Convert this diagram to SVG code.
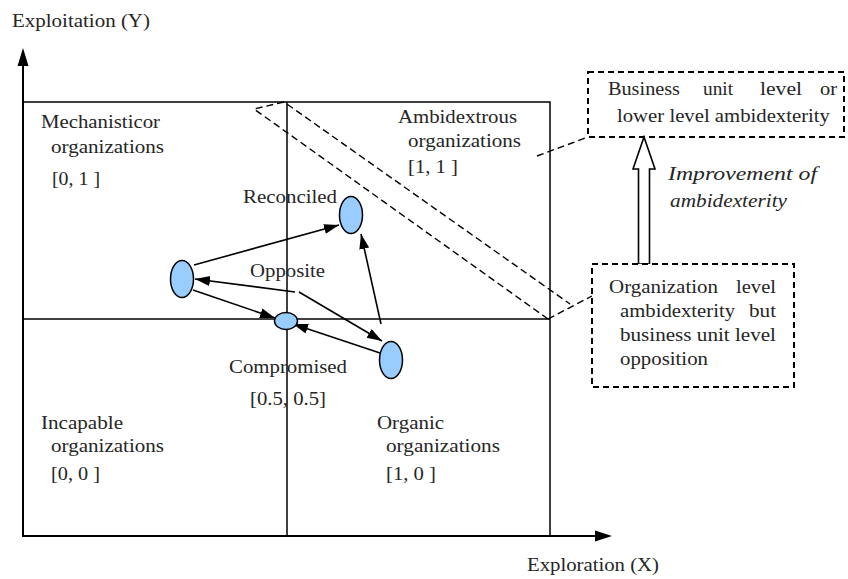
<svg xmlns="http://www.w3.org/2000/svg" width="848" height="579" viewBox="0 0 848 579">
<defs>
<style>
.ax{stroke:#000;stroke-width:2;fill:none}
.frame{stroke:#000;stroke-width:1.5;fill:none}
.dash{stroke:#000;stroke-width:1.4;fill:none;stroke-dasharray:7,4}
.box{stroke:#000;stroke-width:2;fill:#fff;stroke-dasharray:6,4}
.el{fill:#99ccff;stroke:#000;stroke-width:1.5}
.conn{stroke:#000;stroke-width:1.6;fill:none;marker-end:url(#ah)}
</style>
<marker id="ah" markerUnits="userSpaceOnUse" markerWidth="16" markerHeight="12" refX="15" refY="5" orient="auto">
<path d="M0,0 L15,5 L0,10 z" fill="#000"/>
</marker>
</defs>
<rect width="848" height="579" fill="#fff"/>

<g id="axes">
<line class="ax" x1="23" y1="537" x2="23" y2="62"/>
<polygon points="23,48 17.5,66 28.5,66" fill="#000"/>
<line class="ax" x1="23" y1="536" x2="597" y2="536"/>
<polygon points="612,536 595,530.5 595,541.5" fill="#000"/>
<text font-family="Liberation Serif" font-size="19" fill="#262626" x="12" y="27" textLength="138" lengthAdjust="spacingAndGlyphs">Exploitation (Y)</text>
<text font-family="Liberation Serif" font-size="19" fill="#262626" x="527" y="571" textLength="132" lengthAdjust="spacingAndGlyphs">Exploration (X)</text>
</g>

<g id="quadrants">
<rect class="frame" x="23" y="102" width="527" height="434"/>
<line class="frame" x1="287" y1="102" x2="287" y2="536"/>
<line class="frame" x1="23" y1="319" x2="550" y2="319"/>
</g>

<g id="q-mechanistic">
<text font-family="Liberation Serif" font-size="19" fill="#262626" x="41" y="128" textLength="119" lengthAdjust="spacingAndGlyphs">Mechanisticor</text>
<text font-family="Liberation Serif" font-size="19" fill="#262626" x="51" y="153" textLength="113" lengthAdjust="spacingAndGlyphs">organizations</text>
<text font-family="Liberation Serif" font-size="19" fill="#262626" x="52" y="185" textLength="48" lengthAdjust="spacingAndGlyphs">[0, 1 ]</text>
</g>
<g id="q-ambidextrous">
<text font-family="Liberation Serif" font-size="19" fill="#262626" x="398" y="123" textLength="119" lengthAdjust="spacingAndGlyphs">Ambidextrous</text>
<text font-family="Liberation Serif" font-size="19" fill="#262626" x="408" y="147" textLength="113" lengthAdjust="spacingAndGlyphs">organizations</text>
<text font-family="Liberation Serif" font-size="19" fill="#262626" x="408" y="173" textLength="50" lengthAdjust="spacingAndGlyphs">[1, 1 ]</text>
</g>
<g id="q-incapable">
<text font-family="Liberation Serif" font-size="19" fill="#262626" x="41" y="429" textLength="82" lengthAdjust="spacingAndGlyphs">Incapable</text>
<text font-family="Liberation Serif" font-size="19" fill="#262626" x="51" y="452" textLength="113" lengthAdjust="spacingAndGlyphs">organizations</text>
<text font-family="Liberation Serif" font-size="19" fill="#262626" x="51" y="480" textLength="49" lengthAdjust="spacingAndGlyphs">[0, 0 ]</text>
</g>
<g id="q-organic">
<text font-family="Liberation Serif" font-size="19" fill="#262626" x="377" y="429" textLength="67" lengthAdjust="spacingAndGlyphs">Organic</text>
<text font-family="Liberation Serif" font-size="19" fill="#262626" x="386" y="452" textLength="114" lengthAdjust="spacingAndGlyphs">organizations</text>
<text font-family="Liberation Serif" font-size="19" fill="#262626" x="386" y="480" textLength="50" lengthAdjust="spacingAndGlyphs">[1, 0 ]</text>
</g>

<g id="band">
<polyline class="dash" points="548,319 254,109 284,102 570,304"/>
</g>

<g id="connectors">
<line class="dash" x1="548" y1="319" x2="592" y2="296"/>
<line class="dash" x1="537" y1="156" x2="588" y2="137"/>
<line class="conn" x1="194" y1="265" x2="339" y2="225"/>
<line class="conn" x1="295" y1="292" x2="195" y2="279"/>
<line class="conn" x1="193" y1="290" x2="275" y2="318"/>
<line class="conn" x1="299" y1="292" x2="382" y2="341"/>
<line class="conn" x1="380" y1="353" x2="293" y2="324"/>
<line class="conn" x1="381" y1="324" x2="361" y2="234"/>
</g>

<g id="node-reconciled">
<ellipse class="el" cx="351" cy="215" rx="11.5" ry="18.5"/>
<text font-family="Liberation Serif" font-size="19" fill="#262626" x="243" y="203" textLength="94" lengthAdjust="spacingAndGlyphs">Reconciled</text>
</g>
<g id="node-left">
<ellipse class="el" cx="182" cy="279" rx="11.5" ry="18.5"/>
</g>
<g id="node-compromised">
<ellipse class="el" cx="286" cy="321" rx="11.5" ry="8.5"/>
<text font-family="Liberation Serif" font-size="19" fill="#262626" x="229" y="373" textLength="118" lengthAdjust="spacingAndGlyphs">Compromised</text>
<text font-family="Liberation Serif" font-size="19" fill="#262626" x="250" y="405" textLength="76" lengthAdjust="spacingAndGlyphs">[0.5, 0.5]</text>
</g>
<g id="node-right">
<ellipse class="el" cx="391" cy="360" rx="11.5" ry="18.5"/>
</g>
<g id="label-opposite">
<text font-family="Liberation Serif" font-size="19" fill="#262626" x="250" y="277" textLength="75" lengthAdjust="spacingAndGlyphs">Opposite</text>
</g>

<g id="box-business">
<rect class="box" x="588" y="72" width="256" height="65"/>
<text font-family="Liberation Serif" font-size="19" fill="#262626" x="608" y="95" textLength="72" lengthAdjust="spacingAndGlyphs">Business</text>
<text font-family="Liberation Serif" font-size="19" fill="#262626" x="703" y="95" textLength="30" lengthAdjust="spacingAndGlyphs">unit</text>
<text font-family="Liberation Serif" font-size="19" fill="#262626" x="760" y="95" textLength="42" lengthAdjust="spacingAndGlyphs">level</text>
<text font-family="Liberation Serif" font-size="19" fill="#262626" x="820" y="95" textLength="17" lengthAdjust="spacingAndGlyphs">or</text>
<text font-family="Liberation Serif" font-size="19" fill="#262626" x="617" y="122" textLength="213" lengthAdjust="spacingAndGlyphs">lower level ambidexterity</text>
</g>

<g id="improvement">
<polygon points="644,137 655,169 649.5,169 649.5,264 638.5,264 638.5,169 633,169" fill="#fff" stroke="#000" stroke-width="1.6"/>
<text font-family="Liberation Serif" font-size="19" font-style="italic" fill="#262626" x="668" y="180" textLength="149" lengthAdjust="spacingAndGlyphs">Improvement of</text>
<text font-family="Liberation Serif" font-size="19" font-style="italic" fill="#262626" x="670" y="207" textLength="117" lengthAdjust="spacingAndGlyphs">ambidexterity</text>
</g>

<g id="box-organization">
<rect class="box" x="592" y="264" width="202" height="123"/>
<text font-family="Liberation Serif" font-size="19" fill="#262626" x="609" y="293" textLength="109" lengthAdjust="spacingAndGlyphs">Organization</text>
<text font-family="Liberation Serif" font-size="19" fill="#262626" x="736" y="293" textLength="40" lengthAdjust="spacingAndGlyphs">level</text>
<text font-family="Liberation Serif" font-size="19" fill="#262626" x="620" y="317" textLength="115" lengthAdjust="spacingAndGlyphs">ambidexterity</text>
<text font-family="Liberation Serif" font-size="19" fill="#262626" x="749" y="317" textLength="27" lengthAdjust="spacingAndGlyphs">but</text>
<text font-family="Liberation Serif" font-size="19" fill="#262626" x="620" y="341" textLength="156" lengthAdjust="spacingAndGlyphs">business unit level</text>
<text font-family="Liberation Serif" font-size="19" fill="#262626" x="620" y="365" textLength="88" lengthAdjust="spacingAndGlyphs">opposition</text>
</g>
</svg>
